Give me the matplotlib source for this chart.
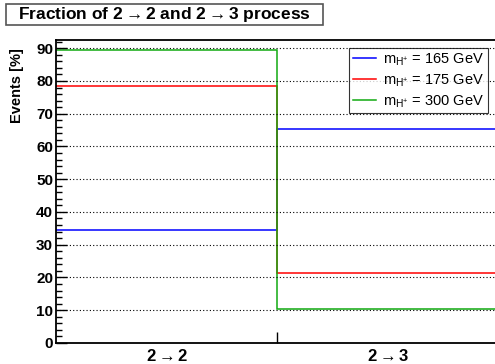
import matplotlib.pyplot as plt
from matplotlib.patches import Rectangle
from matplotlib.ticker import MultipleLocator, FixedLocator

plt.rcParams['font.family'] = ['Liberation Sans', 'DejaVu Sans']
plt.rcParams['mathtext.fontset'] = 'custom'
plt.rcParams['mathtext.rm'] = 'Liberation Sans'
plt.rcParams['mathtext.it'] = 'Liberation Sans'
plt.rcParams['mathtext.bf'] = 'Liberation Sans:bold'

bins = ['$\\mathbf{2 \\rightarrow 2}$', '$\\mathbf{2 \\rightarrow 3}$']
edges = [0, 1, 2]
m165 = [34.5, 65.4]
m175 = [78.5, 21.4]
m300 = [89.6, 10.3]
labels = ['$\\mathrm{m_{H^{+}}}$ = 165 GeV', '$\\mathrm{m_{H^{+}}}$ = 175 GeV',
          '$\\mathrm{m_{H^{+}}}$ = 300 GeV']
colors = ['#0000ff', '#ff0000', '#11aa11']

fig = plt.figure(figsize=(4.95, 3.64), dpi=100)
ax = fig.add_axes([0.113, 0.058, 0.895, 0.832])

for vals, lab, col in zip([m165, m175, m300], labels, colors):
    ax.stairs(vals, edges, baseline=None, color=col, lw=1.1, label=lab)

ax.set_xlim(0, 2)
ax.set_ylim(0, 92.5)
ax.yaxis.set_major_locator(MultipleLocator(10))
ax.yaxis.set_minor_locator(MultipleLocator(2))
ax.xaxis.set_major_locator(FixedLocator([1]))
ax.xaxis.set_minor_locator(FixedLocator([0.5, 1.5]))
ax.set_xticklabels([''])
ax.set_xticklabels(bins, minor=True, fontsize=12, fontweight='bold')
ax.tick_params(axis='x', which='minor', length=0, pad=4)
ax.tick_params(axis='x', which='major', direction='in', length=8, width=1)
ax.tick_params(axis='y', which='major', direction='in', length=8, width=1,
               labelsize=11, pad=2)
ax.tick_params(axis='y', which='minor', direction='in', length=4, width=1)
for t in ax.get_yticklabels():
    t.set_fontweight('bold')
ax.grid(axis='y', which='major', color='black', linestyle=(0, (1, 2)), lw=0.8)
for s in ax.spines.values():
    s.set_linewidth(1.3)

ax.set_ylabel('Events [%]', fontsize=10.5, fontweight='bold', loc='top')
ax.yaxis.set_label_coords(-0.072, 0.974)

leg = ax.legend(loc='upper right', bbox_to_anchor=(0.975, 0.974), fontsize=10.5,
                frameon=True, fancybox=False, edgecolor='black',
                handlelength=1.6, borderpad=0.25, labelspacing=0.3,
                handletextpad=0.5, borderaxespad=0)
leg.get_frame().set_linewidth(0.8)

# title box, ROOT style
fig.patches.append(Rectangle((0.012, 0.931), 0.640, 0.058, transform=fig.transFigure,
                             fc='white', ec='#555555', lw=1.2))
fig.text(0.332, 0.960, 'Fraction of $\\mathbf{2 \\rightarrow 2}$ and $\\mathbf{2 \\rightarrow 3}$ process',
         ha='center', va='center', fontsize=12.5, fontweight='bold')

fig.savefig('out.png', dpi=100)
